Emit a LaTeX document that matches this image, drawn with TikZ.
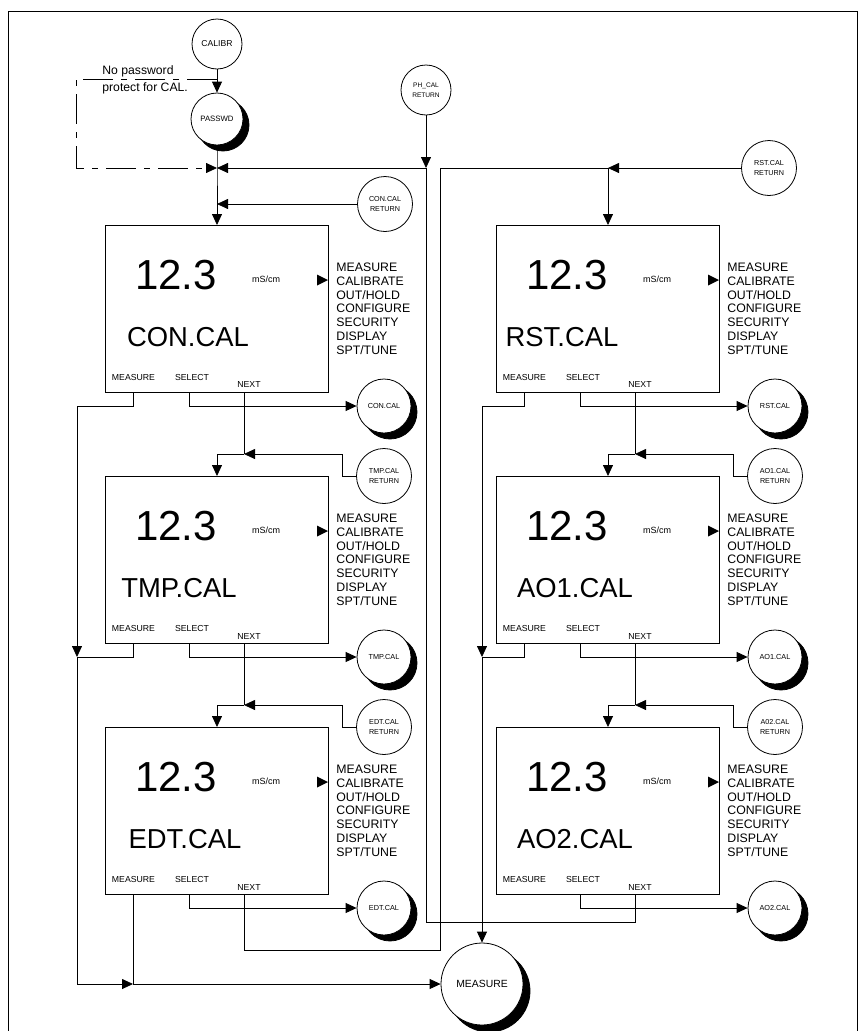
\documentclass[tikz,border=0pt]{standalone}
\usepackage{fontspec}
\setmainfont{Liberation Sans}
\usetikzlibrary{arrows.meta,shadows}
\begin{document}
\begin{tikzpicture}[x=1pt,y=-1pt,line width=0.8pt,
  arr/.style={-{Triangle[length=11pt,width=10pt]}},
  dashdot/.style={dash pattern=on 30pt off 8pt on 6pt off 8pt},
  box/.style={draw,line width=0.9pt,minimum width=223pt,minimum height=167pt,inner sep=0pt,anchor=north west},
  val/.style={font=\fontsize{42}{42}\selectfont,inner sep=0pt},
  bigname/.style={font=\fontsize{27.4}{28}\selectfont,inner sep=0pt},
  unit/.style={font=\fontsize{9}{9}\selectfont,inner sep=0pt},
  menu/.style={font=\fontsize{12.3}{13.8}\selectfont,inner sep=0pt,anchor=base west},
  btn/.style={font=\fontsize{8.7}{9}\selectfont,inner sep=0pt},
  note/.style={font=\fontsize{12.2}{14}\selectfont,inner sep=0pt,anchor=base west},
  rc/.style={circle,draw,fill=white,inner sep=0pt,minimum size=55pt,align=center,font=\fontsize{7.2}{10.5}\selectfont},
  shc/.style={circle,draw,fill=white,inner sep=0pt,minimum size=54pt,align=center,font=\fontsize{7.3}{9}\selectfont,
    general shadow={shadow xshift=6pt,shadow yshift=-6pt,fill=black,draw=black}},
  shcbig/.style={circle,draw,fill=white,inner sep=0pt,minimum size=82pt,align=center,font=\fontsize{10.4}{12}\selectfont,
    general shadow={shadow xshift=7pt,shadow yshift=-7pt,fill=black,draw=black}}
]
\useasboundingbox (0,0) rectangle (861,1031);
% frame
\draw (8,1040) -- (8,11) -- (857,11) -- (857,1040);

% top nodes
\node[rc,minimum size=50pt,font=\fontsize{8.6}{10}\selectfont] (calibr) at (217,44) {CALIBR};
\node[shc,minimum size=52pt,font=\fontsize{7.8}{9}\selectfont] (passwd) at (217,119) {PASSWD};
\node[rc,minimum size=50pt,font=\fontsize{6.6}{10}\selectfont] (phcal) at (426,90) {PH\_CAL\\RETURN};
\node[rc] (conret) at (385,204) {CON.CAL\\RETURN};
\node[rc] (rstret) at (769,168) {RST.CAL\\RETURN};
\node[rc] (tmpret) at (384,476) {TMP.CAL\\RETURN};
\node[rc] (edtret) at (384,727) {EDT.CAL\\RETURN};
\node[rc] (aoaret) at (775,476) {AO1.CAL\\RETURN};
\node[rc] (aobret) at (775,727) {A02.CAL\\RETURN};
\node[shcbig] (measure) at (482,984) {MEASURE};

\node[note] (note1) at (102,74) {No password};
\node[note] (note2) at (102,91) {protect for CAL.};

% boxes
\foreach \n/\lx/\ty/\lab/\cx/\sub in {con/105/225/CON.CAL/188/CON.CAL,tmp/105/476/TMP.CAL/179/TMP.CAL,edt/105/727/EDT.CAL/185/EDT.CAL,rst/496/225/RST.CAL/562/RST.CAL,aoa/496/476/AO1.CAL/575/AO1.CAL,aob/496/727/AO2.CAL/575/AO2.CAL}
{
  \node[box] (\n) at (\lx,\ty) {};
  \node[val] (\n-val) at ({\lx+71},{\ty+50}) {12.3};
  \node[unit] (\n-unit) at ({\lx+161},{\ty+54}) {mS/cm};
  \fill ({\lx+212},{\ty+49.5}) -- ({\lx+223},{\ty+55}) -- ({\lx+212},{\ty+60.5}) -- cycle;
  \foreach \m [count=\k from 0] in {MEASURE,CALIBRATE,{OUT/HOLD},CONFIGURE,SECURITY,DISPLAY,{SPT/TUNE}}
    \node[menu] (\n-m\k) at ({\lx+231},{\ty+46.4+13.8*\k}) {\m};
  \node[bigname] (\n-name) at (\cx,{\ty+112}) {\lab};
  \node[btn] (\n-b1) at ({\lx+28.5},{\ty+152}) {MEASURE};
  \node[btn] (\n-b2) at ({\lx+87},{\ty+152}) {SELECT};
  \node[btn] (\n-b3) at ({\lx+144},{\ty+160}) {NEXT};
  \coordinate (\n-mea) at ({\lx+28},{\ty+167});
  \coordinate (\n-sel) at ({\lx+84},{\ty+167});
  \coordinate (\n-nxt) at ({\lx+139},{\ty+167});
  \coordinate (\n-in) at ({\lx+112},\ty);
  \node[shc] (\n-sub) at ({\lx+279},{\ty+181}) {\sub};
  \draw[arr] (\n-sel) |- (\n-sub);
}

% top-left flow
\coordinate (byp) at (217,79);
\coordinate (dashC) at (76,168);
\coordinate (mainJ) at (217,168);
\coordinate (phJ) at (426,168);
\coordinate (conJ) at (217,204);
\draw[arr] (calibr) -- (passwd);
\draw[dashdot,arr] (byp) -| (dashC) -- (mainJ);
\draw (passwd) -- (mainJ) -- (conJ);
\draw[arr] (phJ) -- (mainJ);
\draw[arr] (phcal) -- (phJ);
\draw[arr] (conret) -- (conJ);
\draw[arr] (conJ) -- (con-in);

% top-right flow
\coordinate (rstJ) at (608,168);
\coordinate (bigR) at (440,168);
\coordinate (edtLoop) at (440,950);
\coordinate (aobLoop) at (426,922);
\draw[arr] (rstret) -- (rstJ);
\draw[arr] (rstJ) -- (rst-in);
\draw (edt-nxt) |- (edtLoop) -- (bigR) -- (rstJ);
\draw (aob-nxt) |- (aobLoop) -- (phJ);

% return loops
\foreach \r/\b/\sx/\jx/\jy in {tmpret/tmp/342/244/454,edtret/edt/342/244/705,aoaret/aoa/733/635/454,aobret/aob/733/635/705}
{
  \coordinate (\b-step) at (\sx,\jy);
  \coordinate (\b-j) at (\jx,\jy);
  \draw[arr] (\r) -| (\b-step) -- (\b-j);
  \draw[arr] (\b-j) -| (\b-in);
}
\draw (con-nxt) -- (tmp-j);
\draw (tmp-nxt) -- (edt-j);
\draw (rst-nxt) -- (aoa-j);
\draw (aoa-nxt) -- (aob-j);

% measure trunks
\coordinate (mlTop) at (77,406);
\coordinate (mlMid) at (77,657);
\coordinate (mlBot) at (77,984);
\coordinate (edtJ) at (133,984);
\draw (con-mea) |- (mlTop);
\draw[arr] (mlTop) -- (mlMid);
\draw (tmp-mea) |- (mlMid);
\draw (mlMid) -- (mlBot);
\draw[arr] (mlBot) -- (edtJ);
\draw (edt-mea) -- (edtJ);
\draw[arr] (edtJ) -- (measure);

\coordinate (mrTop) at (482,406);
\coordinate (mrMid) at (482,657);
\draw (rst-mea) |- (mrTop);
\draw[arr] (mrTop) -- (mrMid);
\draw (aoa-mea) |- (mrMid);
\draw[arr] (mrMid) -- (measure);
\end{tikzpicture}
\end{document}
